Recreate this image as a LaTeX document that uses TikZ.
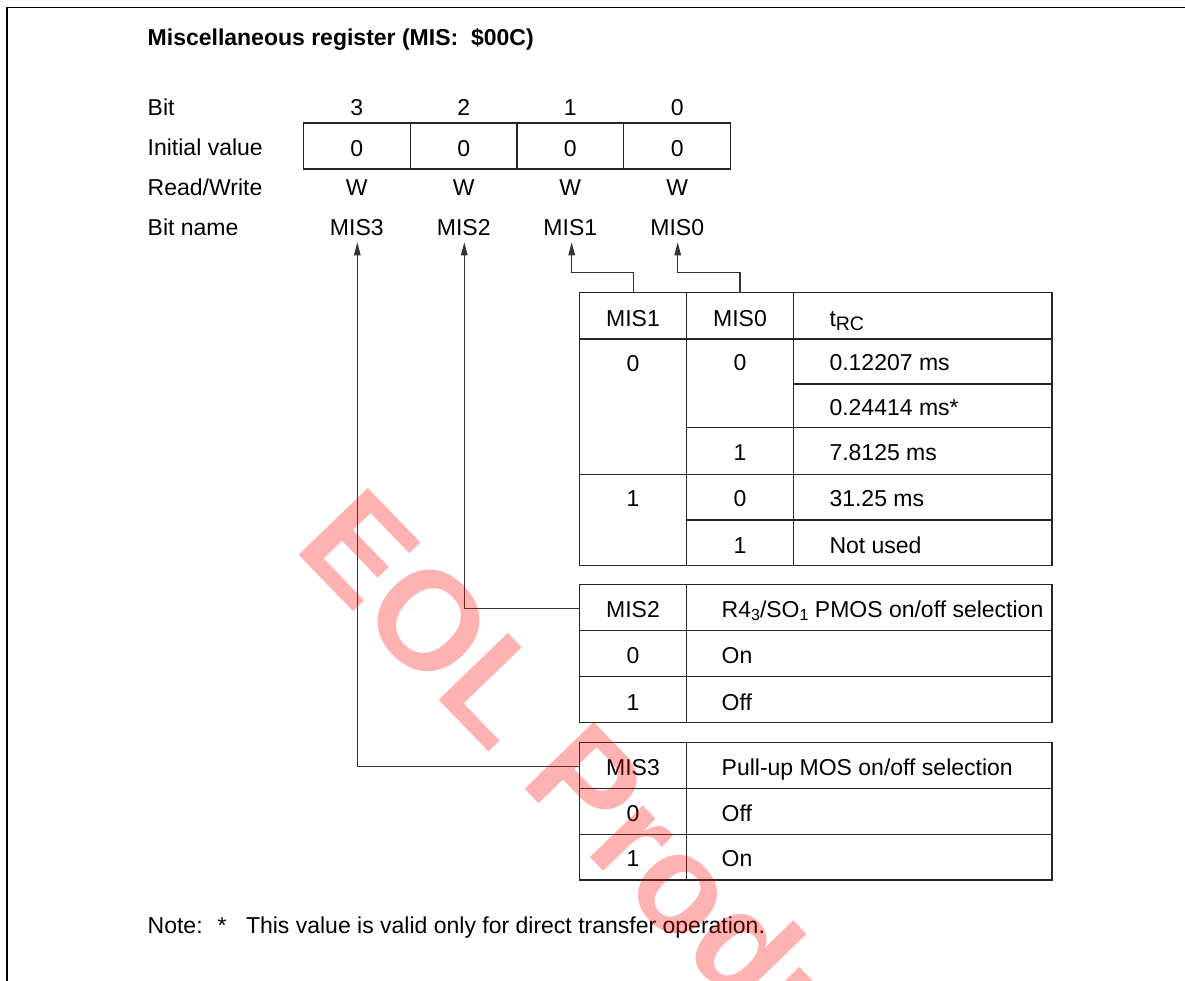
\documentclass[tikz,border=0pt]{standalone}
\usepackage{fontspec}
\setmainfont{Liberation Sans}
\usetikzlibrary{arrows.meta}
\newcommand{\subsm}[1]{\raisebox{-3.5pt}{\fontsize{16}{18}\selectfont #1}}
\newcommand{\subrc}[1]{\raisebox{-3.5pt}{\fontsize{19.5}{20}\selectfont #1}}
\begin{document}
\begin{tikzpicture}[x=1pt,y=-1pt,
  every node/.style={inner sep=0pt,outer sep=0pt,font=\fontsize{23}{27}\selectfont},
  lbl/.style={anchor=base west},
  ctr/.style={anchor=base},
  tbl/.style={line width=1.3pt,draw=black!85},
  conn/.style={line width=1.2pt,draw=black!80,-{Triangle[length=13pt,width=6.5pt]}},
  frame/.style={line width=1.6pt,draw=black},
  wmark/.style={text=red,text opacity=0.3,rotate=-46,anchor=base west,
    font=\bfseries\fontsize{140}{150}\selectfont}]
\useasboundingbox (0,0) rectangle (1185,980);
% outer frame (only top and left edges are inside the picture)
\draw[frame] (6.7,990) -- (6.7,7.3) -- (1195,7.3);

% title
\node[lbl,font=\bfseries\fontsize{23}{27}\selectfont] (title) at (147.7,45.7) {Miscellaneous register (MIS:\ \ \$00C)};

% row labels
\node[lbl] (lbit) at (147.7,115.5) {Bit};
\node[lbl] (linit) at (147.7,155.5) {Initial value};
\node[lbl] (lrw) at (147.7,195) {Read/Write};
\node[lbl] (lname) at (147.7,235.5) {Bit name};

% register box
\draw[tbl] (303.3,123) rectangle (730.7,169);
\foreach \x in {410.3,517,623.7} \draw[tbl] (\x,123) -- (\x,169);
\foreach \x/\b in {356.8/3,463.7/2,570.3/1,677.2/0}{
  \node[ctr] (bit\b) at (\x,115.5) {\b};
  \node[ctr] (iv\b) at (\x,156) {0};
  \node[ctr] (rw\b) at (\x,195) {W};
  \node[ctr] (bn\b) at (\x,235.5) {MIS\b};
}
\coordinate (tip3) at (357.3,242.3);
\coordinate (tip2) at (464.3,242.3);
\coordinate (tip1) at (571.7,242.3);
\coordinate (tip0) at (677.7,242.3);

% ---------- table 1 ----------
\draw[tbl] (579.5,292.5) rectangle (1052,565.5);
\draw[tbl] (686.7,292.5) -- (686.7,565.5);
\draw[tbl] (793.3,292.5) -- (793.3,565.5);
\draw[tbl] (579.5,339) -- (1052,339);
\draw[tbl] (793.3,384) -- (1052,384);
\draw[tbl] (686.7,427.5) -- (1052,427.5);
\draw[tbl] (579.5,474.5) -- (1052,474.5);
\draw[tbl] (686.7,520) -- (1052,520);
\coordinate (t1a) at (633.7,292.5);
\coordinate (t1b) at (740,292.5);

\node[ctr] (h1a) at (633,326.5) {MIS1};
\node[ctr] (h1b) at (740,326.5) {MIS0};
\node[lbl] (h1c) at (829.5,326.5) {t\subrc{RC}};
\node[ctr] (r1a) at (633,371.5) {0};
\node[ctr] (r1b) at (740,370.5) {0};
\node[lbl] (r1c) at (829.5,370) {0.12207 ms};
\node[lbl] (r2c) at (829.5,415) {0.24414 ms*};
\node[ctr] (r3b) at (740,460) {1};
\node[lbl] (r3c) at (829.5,460) {7.8125 ms};
\node[ctr] (r4a) at (633,506.7) {1};
\node[ctr] (r4b) at (740,506.7) {0};
\node[lbl] (r4c) at (829.5,506.7) {31.25 ms};
\node[ctr] (r5b) at (740,553.5) {1};
\node[lbl] (r5c) at (829.5,553) {Not used};

% ---------- table 2 ----------
\draw[tbl] (579.5,584.3) rectangle (1052,722.3);
\draw[tbl] (686.7,584.3) -- (686.7,722.3);
\draw[tbl] (579.5,630.3) -- (1052,630.3);
\draw[tbl] (579.5,676.3) -- (1052,676.3);
\coordinate (t2in) at (579.5,608.3);
\node[ctr] (h2a) at (633,617.3) {MIS2};
\node[lbl] (h2b) at (721.7,617.3) {R4\subsm{3}/SO\subsm{1} PMOS on/off selection};
\node[ctr] (s2a) at (633,663.3) {0};
\node[lbl] (s2b) at (721.7,663.3) {On};
\node[ctr] (s3a) at (633,710) {1};
\node[lbl] (s3b) at (721.7,710) {Off};

% ---------- table 3 ----------
\draw[tbl] (579.5,742.3) rectangle (1052,880);
\draw[tbl] (686.7,742.3) -- (686.7,880);
\draw[tbl] (579.5,788.3) -- (1052,788.3);
\draw[tbl] (579.5,834.3) -- (1052,834.3);
\coordinate (t3in) at (579.5,766.7);
\node[ctr] (h3a) at (633,775) {MIS3};
\node[lbl] (h3b) at (721.7,775) {Pull-up MOS on/off selection};
\node[ctr] (u2a) at (633,821) {0};
\node[lbl] (u2b) at (721.7,821) {Off};
\node[ctr] (u3a) at (633,866.7) {1};
\node[lbl] (u3b) at (721.7,866.7) {On};

% ---------- connectors ----------
\draw[conn] (t1a) -- ++(0,-20.2) -| (tip1);
\draw[conn] (t1b) -- ++(0,-20.2) -| (tip0);
\draw[conn] (t2in) -| (tip2);
\draw[conn] (t3in) -| (tip3);

% note
\node[lbl] (note) at (147.7,933.3) {Note:};
\node[lbl] (ast) at (217.5,933.3) {*};
\node[lbl] (notetext) at (246,933.3) {This value is valid only for direct transfer operation.};

% watermark
\begin{scope}
\clip (0,0) rectangle (1185,980);
\node[wmark] (wm) at (292,548) {EOL Products};
\end{scope}
\end{tikzpicture}
\end{document}
